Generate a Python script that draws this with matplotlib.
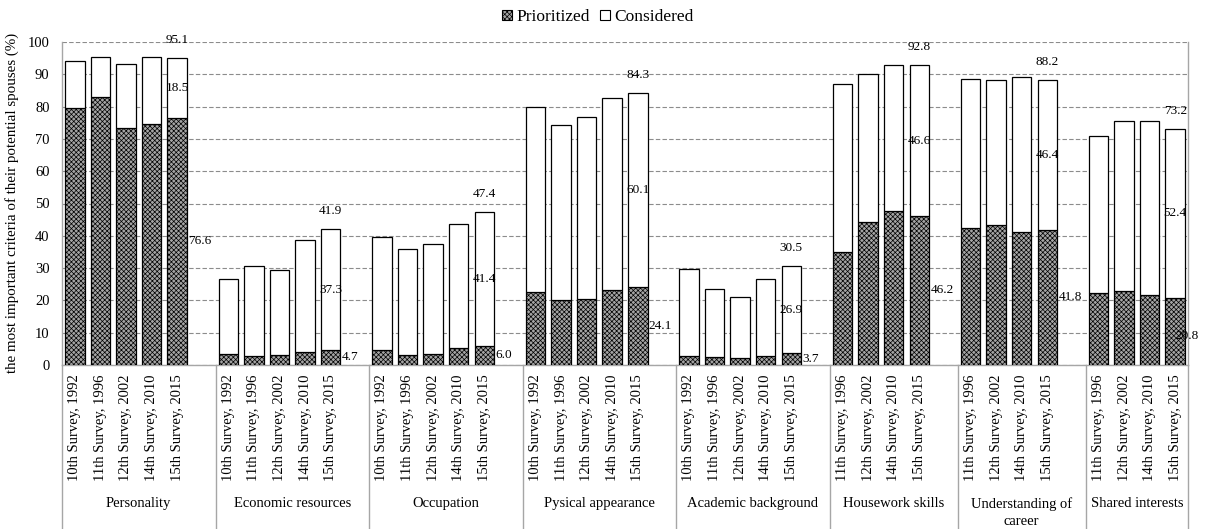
import numpy as np
import matplotlib
matplotlib.use('Agg')
import matplotlib.pyplot as plt
from matplotlib.patches import Patch

plt.rcParams['font.family'] = ['Liberation Serif', 'DejaVu Serif']
plt.rcParams['hatch.color'] = '#505050'
plt.rcParams['hatch.linewidth'] = 0.5

# data
groups = ['Personality', 'Economic resources', 'Occupation', 'Pysical appearance',
          'Academic background', 'Housework skills', 'Understanding of\ncareer', 'Shared interests']
surveys5 = ['10th Survey, 1992', '11th Survey, 1996', '12th Survey, 2002', '14th Survey, 2010', '15th Survey, 2015']
surveys4 = ['11th Survey, 1996', '12th Survey, 2002', '14th Survey, 2010', '15th Survey, 2015']

personality_p = [79.6, 83.1, 73.5, 74.5, 76.6]
personality_c = [14.6, 12.2, 19.7, 20.8, 18.5]
economic_p = [3.5, 2.8, 3.1, 4.1, 4.7]
economic_c = [23.1, 28.0, 26.3, 34.6, 37.3]
occupation_p = [4.5, 3.1, 3.4, 5.2, 6.0]
occupation_c = [35.0, 32.9, 34.0, 38.4, 41.4]
physical_p = [22.5, 20.0, 20.5, 23.2, 24.1]
physical_c = [57.5, 54.2, 56.4, 59.5, 60.1]
academic_p = [2.8, 2.4, 2.1, 2.8, 3.7]
academic_c = [27.0, 21.2, 19.1, 23.8, 26.9]
housework_p = [34.9, 44.3, 47.8, 46.2]
housework_c = [52.0, 45.8, 45.2, 46.6]
career_p = [42.5, 43.3, 41.2, 41.8]
career_c = [46.1, 45.0, 48.1, 46.4]
shared_p = [22.2, 22.8, 21.6, 20.8]
shared_c = [48.6, 52.7, 53.9, 52.4]
# totals printed above the 2015 bars
totals_2015 = [95.1, 41.9, 47.4, 84.3, 30.5, 92.8, 88.2, 73.2]

prior_all = [personality_p, economic_p, occupation_p, physical_p, academic_p, housework_p, career_p, shared_p]
cons_all = [personality_c, economic_c, occupation_c, physical_c, academic_c, housework_c, career_c, shared_c]
survey_all = [surveys5] * 5 + [surveys4] * 3
# empty category after each group (none after the last)
gap_after = [1, 1, 1, 1, 1, 1, 1, 0]

W, H = 1205, 529
fig = plt.figure(figsize=(W / 100, H / 100), dpi=100)
L, R, T, B = 62, 1188, 42, 365
ax = fig.add_axes([L / W, 1 - B / H, (R - L) / W, (B - T) / H])

grey = '#a6a6a6'
bw = 0.76
xpos, xlab, bounds = [], [], [0]
start = 0
for g in range(len(groups)):
    n = len(prior_all[g])
    xs = start + np.arange(n) + 0.5
    p = np.array(prior_all[g]); c = np.array(cons_all[g])
    ax.bar(xs, p, width=bw, color='#a4a4a4', edgecolor='black', linewidth=0.9, hatch='xxxxxxx', zorder=3)
    ax.bar(xs, c, bottom=p, width=bw, color='white', edgecolor='black', linewidth=0.9, zorder=3)
    xpos += list(xs); xlab += survey_all[g]

    # labels on the last bar of the group
    xl = xs[-1]
    ax.annotate(f'{totals_2015[g]:.1f}', (xl, p[-1] + c[-1]), xytext=(0, 13), textcoords='offset points',
                ha='center', va='center', fontsize=9.5, zorder=5)
    ax.text(xl, p[-1] + c[-1] / 2, f'{c[-1]:.1f}', ha='center', va='center', fontsize=9.5, zorder=5)
    if gap_after[g]:
        ax.annotate(f'{p[-1]:.1f}', (xl + bw / 2, p[-1] / 2), xytext=(1, 0), textcoords='offset points',
                    ha='left', va='center', fontsize=9.5, zorder=5)
    else:
        ax.annotate(f'{p[-1]:.1f}', (xl, p[-1] / 2), xytext=(0, -3), textcoords='offset points',
                    ha='left', va='center', fontsize=9.5, zorder=5)

    mid = start + n / 2 + gap_after[g] / 2
    lines = groups[g].split('\n')
    ax.text(mid, -0.43, lines[0], transform=ax.get_xaxis_transform(), ha='center', va='center', fontsize=10.5)
    if len(lines) > 1:
        ax.text(mid, -0.485, lines[1], transform=ax.get_xaxis_transform(), ha='center', va='center', fontsize=10.5)
    start += n + gap_after[g]
    bounds.append(start)

ax.set_xlim(0, start)
ax.set_ylim(0, 100)
ax.set_yticks(np.arange(0, 101, 10))
ax.set_xticks(xpos)
ax.set_xticklabels(xlab, rotation=90, fontsize=10.5)
ax.tick_params(axis='x', length=0, pad=7)
ax.tick_params(axis='y', length=0, pad=9, labelsize=10.5)

ax.set_axisbelow(True)
ax.yaxis.grid(True, color='#8c8c8c', linestyle=(0, (4, 2)), linewidth=0.8)
ax.spines['top'].set_visible(False)
for s in ['left', 'bottom', 'right']:
    ax.spines[s].set_color(grey)
    ax.spines[s].set_linewidth(1.0)

# group separators under the axis
tr = ax.get_xaxis_transform()
for b in bounds:
    ax.plot([b, b], [0, -0.52], color=grey, linewidth=1.0, transform=tr, clip_on=False)

fig.text(12 / W, 1 - 203 / H, 'the most important criteria of their potential spouses (%)',
         rotation=90, ha='center', va='center', fontsize=10.8)

handles = [Patch(facecolor='#a4a4a4', edgecolor='black', hatch='xxxxxxx', linewidth=0.8, label='Prioritized'),
           Patch(facecolor='white', edgecolor='black', linewidth=0.8, label='Considered')]
fig.legend(handles=handles, loc='center', bbox_to_anchor=(598 / W, 1 - 17 / H), ncol=2, frameon=False,
           fontsize=12.5, handlelength=0.55, handleheight=0.55, handletextpad=0.25, columnspacing=0.6)

fig.savefig('out.png', dpi=100)
